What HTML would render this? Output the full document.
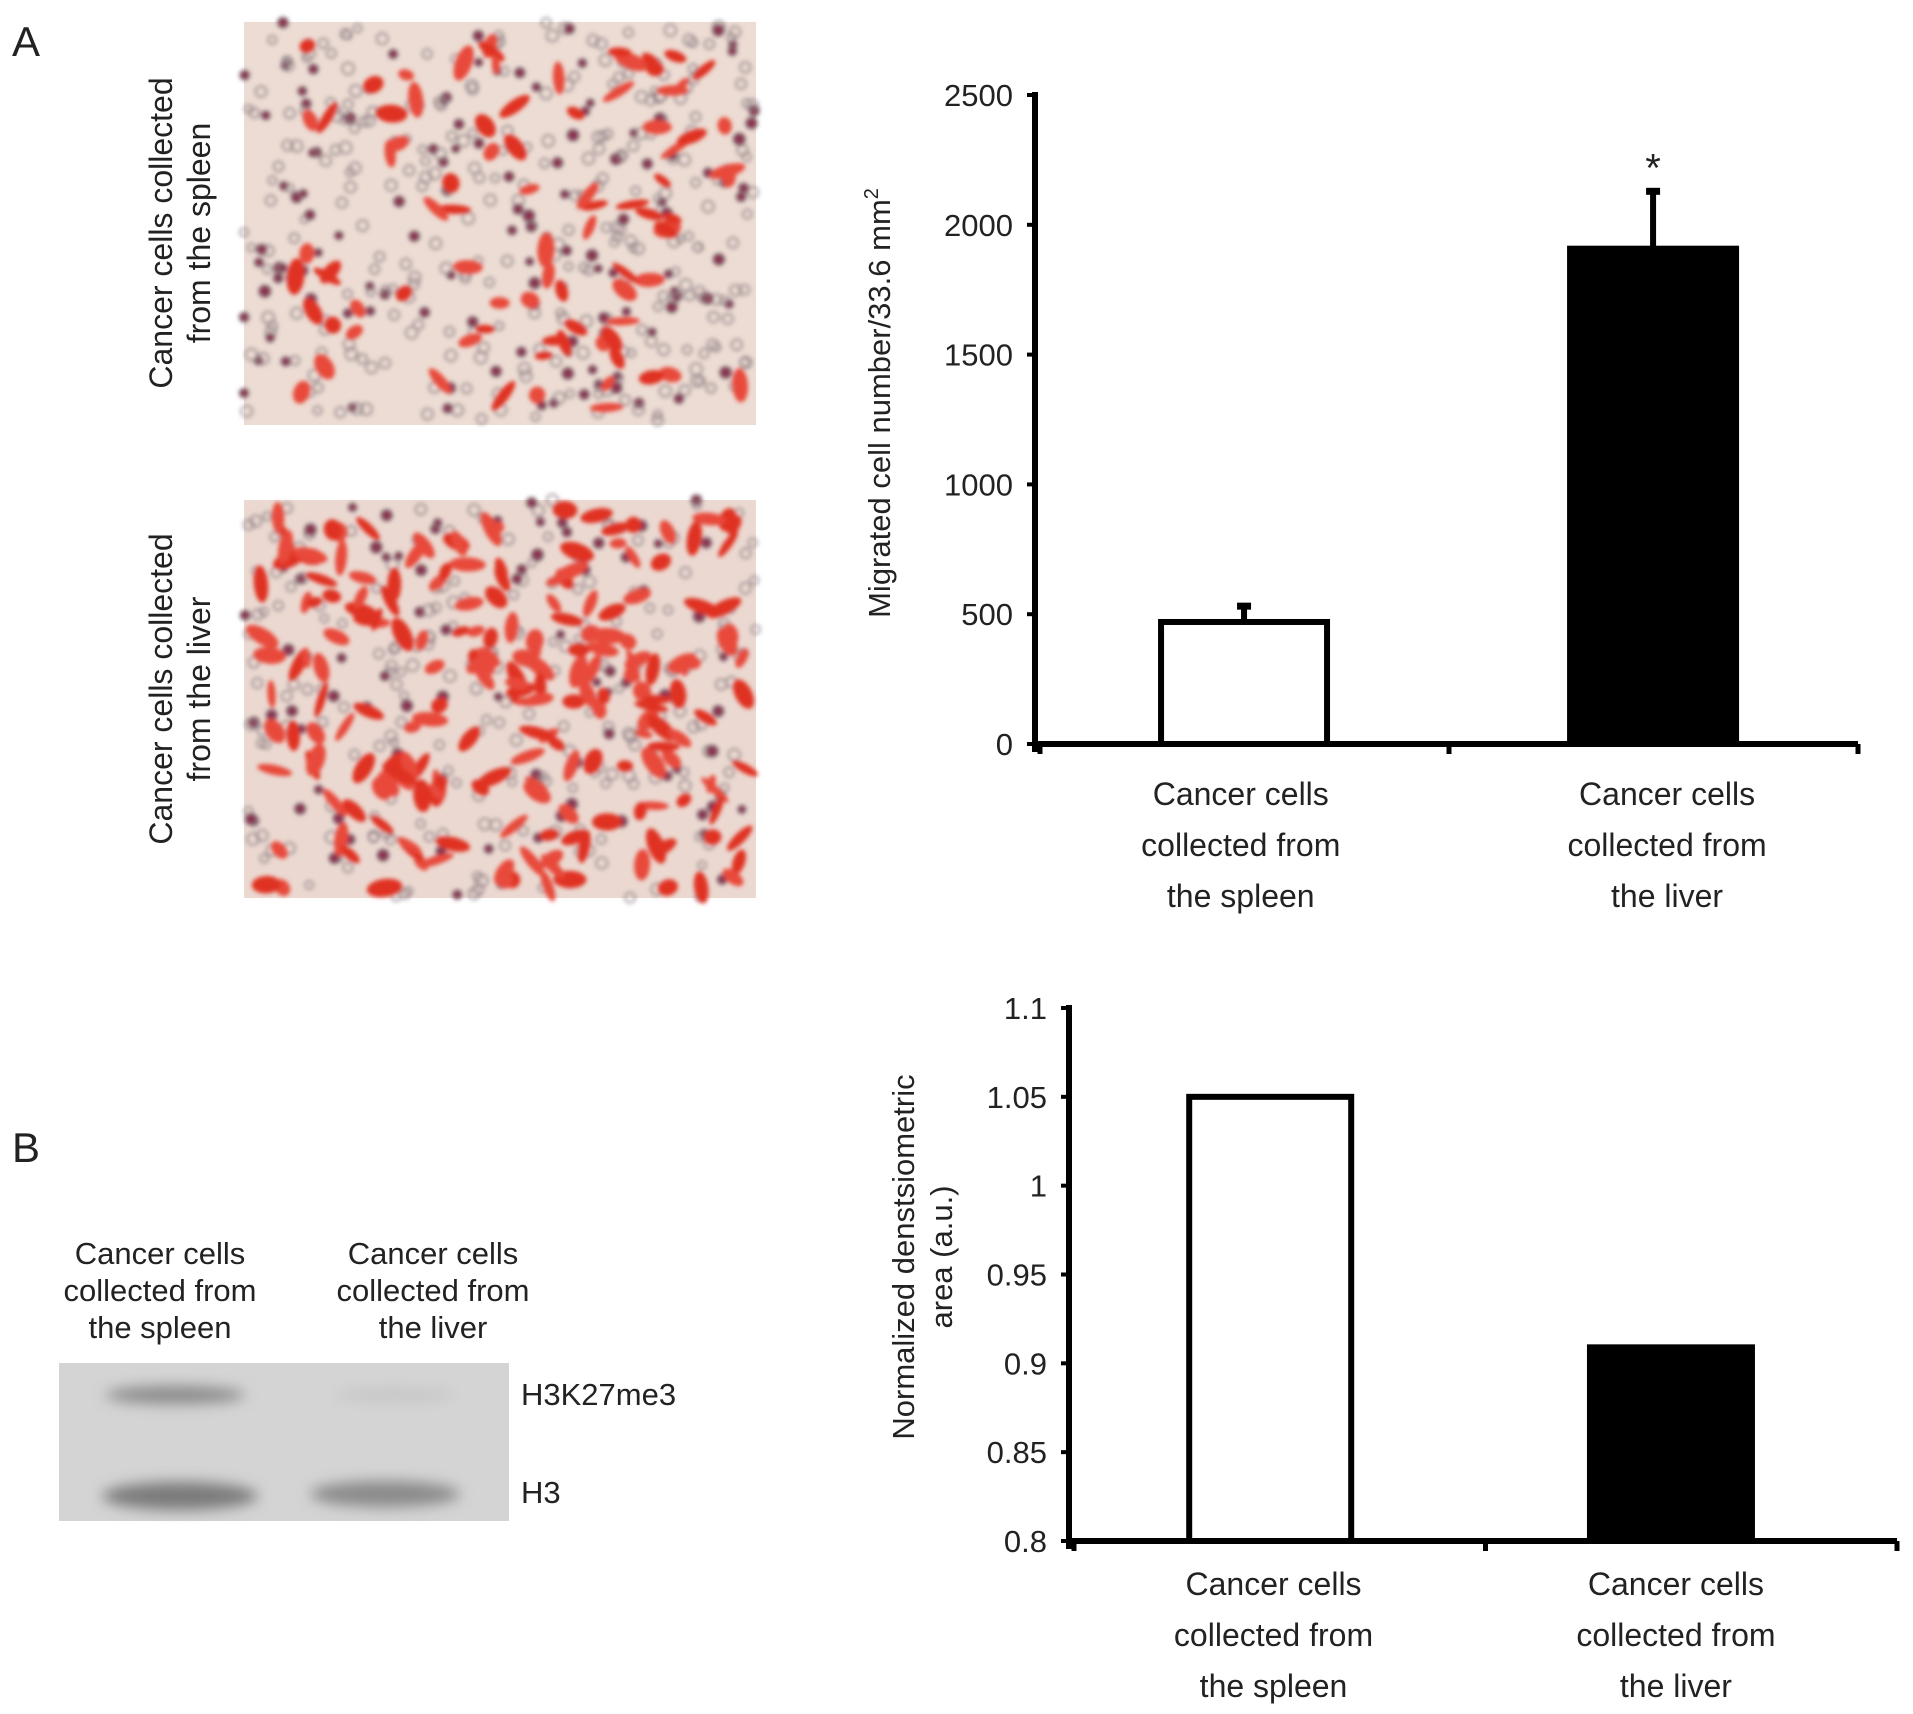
<!DOCTYPE html>
<html><head><meta charset="utf-8"><style>
body{margin:0;background:#fff}
svg{display:block}
text{font-family:"Liberation Sans",sans-serif;fill:#222}
</style></head><body>
<svg id="fig" width="1913" height="1714" viewBox="0 0 1913 1714">
<defs>
<filter id="blur2"><feGaussianBlur stdDeviation="2"/></filter>
<filter id="blur6"><feGaussianBlur stdDeviation="7"/></filter>
</defs>
<text x="12" y="56" font-size="42">A</text>
<text x="12" y="1162" font-size="42">B</text>

<g>
<rect x="244" y="22" width="512" height="403" fill="#ecdcd3"/>
<g id="cells1" filter="url(#blur2)"></g>
</g>
<g>
<rect x="244" y="500" width="512" height="398" fill="#ebd9d1"/>
<g id="cells2" filter="url(#blur2)"></g>
</g>
<text transform="translate(172,233) rotate(-90)" text-anchor="middle" font-size="32"><tspan x="0" y="0">Cancer cells collected</tspan><tspan x="0" y="38">from the spleen</tspan></text>
<text transform="translate(172,689) rotate(-90)" text-anchor="middle" font-size="32"><tspan x="0" y="0">Cancer cells collected</tspan><tspan x="0" y="38">from the liver</tspan></text>

<g>
<text text-anchor="middle" font-size="31"><tspan x="160" y="1264">Cancer cells</tspan><tspan x="160" y="1301">collected from</tspan><tspan x="160" y="1338">the spleen</tspan></text>
<text text-anchor="middle" font-size="31"><tspan x="433" y="1264">Cancer cells</tspan><tspan x="433" y="1301">collected from</tspan><tspan x="433" y="1338">the liver</tspan></text>
<rect x="59" y="1363" width="450" height="158" fill="#d4d4d4"/>
<g filter="url(#blur6)">
<ellipse cx="175" cy="1395" rx="70" ry="9" fill="#8a8a8a"/>
<ellipse cx="395" cy="1395" rx="60" ry="6" fill="#c4c4c4"/>
<ellipse cx="180" cy="1496" rx="78" ry="14" fill="#7a7a7a"/>
<ellipse cx="385" cy="1494" rx="75" ry="13" fill="#8a8a8a"/>
</g>
<text x="521" y="1405" font-size="31">H3K27me3</text>
<text x="521" y="1503" font-size="31">H3</text>
</g>

<g id="chartA"></g>
<g id="chartB"></g>
</svg>
<script>
const NS="http://www.w3.org/2000/svg";
function mk(parent,tag,attrs){const e=document.createElementNS(NS,tag);for(const k in attrs)e.setAttribute(k,attrs[k]);parent.appendChild(e);return e;}

// ---- chart A data ----
const catsA=[["Cancer cells","collected from","the spleen"],["Cancer cells","collected from","the liver"]];
const valuesA=[470,1908];
const errorsA=[61,221];
const ticksA=[0,500,1000,1500,2000,2500];
const tickLabelsA=["0","500","1000","1500","2000","2500"];
const sigA=["","*"];
// ---- chart B data ----
const catsB=[["Cancer cells","collected from","the spleen"],["Cancer cells","collected from","the liver"]];
const valuesB=[1.05,0.909];
const ticksB=[0.8,0.85,0.9,0.95,1,1.05,1.1];
const tickLabelsB=["0.8","0.85","0.9","0.95","1","1.05","1.1"];

function drawChart(g,o){
  const y=v=>o.y0-(v-o.vmin)/(o.vmax-o.vmin)*(o.y0-o.yTop);
  const W=o.xEnd-o.axisX;
  const x=i=>o.axisX+o.barPos[i]*W;
  const lx=i=>o.axisX+o.labelPos[i]*W;
  o.values.forEach((v,i)=>{
    const cx=x(i);
    const b=mk(g,'rect',{x:cx-o.bw/2,y:y(v),width:o.bw,height:o.y0-y(v),fill:i==0?'#fff':'#000',stroke:'#000','stroke-width':6});
    
    
    if(o.errors){
      const e=mk(g,'line',{x1:cx,x2:cx,y1:y(v),y2:y(v+o.errors[i]),stroke:'#000','stroke-width':6});
      
      
      mk(g,'line',{x1:cx-7,x2:cx+7,y1:y(v+o.errors[i]),y2:y(v+o.errors[i]),stroke:'#000','stroke-width':7});
      if(o.sig[i]){const s=mk(g,'text',{x:cx,y:y(v+o.errors[i])-10,'text-anchor':'middle','font-size':40});s.textContent=o.sig[i];
        
        }
    }
    o.cats[i].forEach((ln,j)=>{const t=mk(g,'text',{x:lx(i),y:o.catY+j*51,'text-anchor':'middle','font-size':32});t.textContent=ln;
      
      });
  });
  const ax=mk(g,'line',{x1:o.axisX,x2:o.axisX,y1:o.yTop-3,y2:o.y0+8,stroke:'#000','stroke-width':6});
  
  
  const xa=mk(g,'line',{x1:o.axisX,x2:o.xEnd,y1:o.y0,y2:o.y0,stroke:'#000','stroke-width':6});
  
  
  [0,1,2].forEach(k=>{const tx=o.axisX+5+k*(o.xEnd-o.axisX-5)/2;mk(g,'line',{x1:tx,x2:tx,y1:o.y0,y2:o.y0+10,stroke:'#000','stroke-width':5});});
  o.ticks.forEach((t,i)=>{
    mk(g,'line',{x1:o.axisX-8,x2:o.axisX,y1:y(t),y2:y(t),stroke:'#000','stroke-width':4});
    const l=mk(g,'text',{x:o.axisX-22,y:y(t)+11,'text-anchor':'end','font-size':31});l.textContent=o.tickLabels[i];
    
    
  });
}
const gA=document.getElementById('chartA');
drawChart(gA,{axisX:1035,y0:744,yTop:95,xEnd:1858,vmin:0,vmax:2500,bw:166,barPos:[0.254,0.751],labelPos:[0.250,0.768],cats:catsA,values:valuesA,errors:errorsA,sig:sigA,ticks:ticksA,tickLabels:tickLabelsA,catY:805});
const tA=mk(gA,'text',{transform:'translate(890,403) rotate(-90)','text-anchor':'middle','font-size':31});


tA.innerHTML='Migrated cell number/33.6 mm<tspan dy="-12" font-size="20">2</tspan>';
const gB=document.getElementById('chartB');
drawChart(gB,{axisX:1069,y0:1541,yTop:1008,xEnd:1897,vmin:0.8,vmax:1.1,bw:162,barPos:[0.243,0.727],labelPos:[0.247,0.733],cats:catsB,values:valuesB,ticks:ticksB,tickLabels:tickLabelsB,catY:1595});
const tB=mk(gB,'text',{transform:'translate(914,1257) rotate(-90)','text-anchor':'middle','font-size':31});


tB.innerHTML='<tspan x="0" y="0">Normalized denstsiometric</tspan><tspan x="0" y="38">area (a.u.)</tspan>';

// decorative micrograph texture (deterministic)
let seed=7;function rnd(){seed=(seed*16807)%2147483647;return seed/2147483647;}
function cells(id,x0,y0,w,h,nRed,nRing){
  const g=document.getElementById(id);
  for(let i=0;i<nRing;i++){mk(g,'circle',{cx:x0+rnd()*w,cy:y0+rnd()*h,r:4+rnd()*2,fill:rnd()<0.3?'#8a3050':'none',stroke:'#8a7a80','stroke-width':1.5});}
  for(let i=0;i<nRed;i++){const cx=x0+10+rnd()*(w-20),cy=y0+10+rnd()*(h-20),a=rnd()*180;
    mk(g,'ellipse',{cx:cx,cy:cy,rx:8+rnd()*11,ry:4+rnd()*5,fill:rnd()<0.5?'#e03020':'#e8483a',transform:`rotate(${a} ${cx} ${cy})`});}
}
cells('cells1',244,22,512,403,85,420);
cells('cells2',244,500,512,398,210,320);
</script>
</body></html>
